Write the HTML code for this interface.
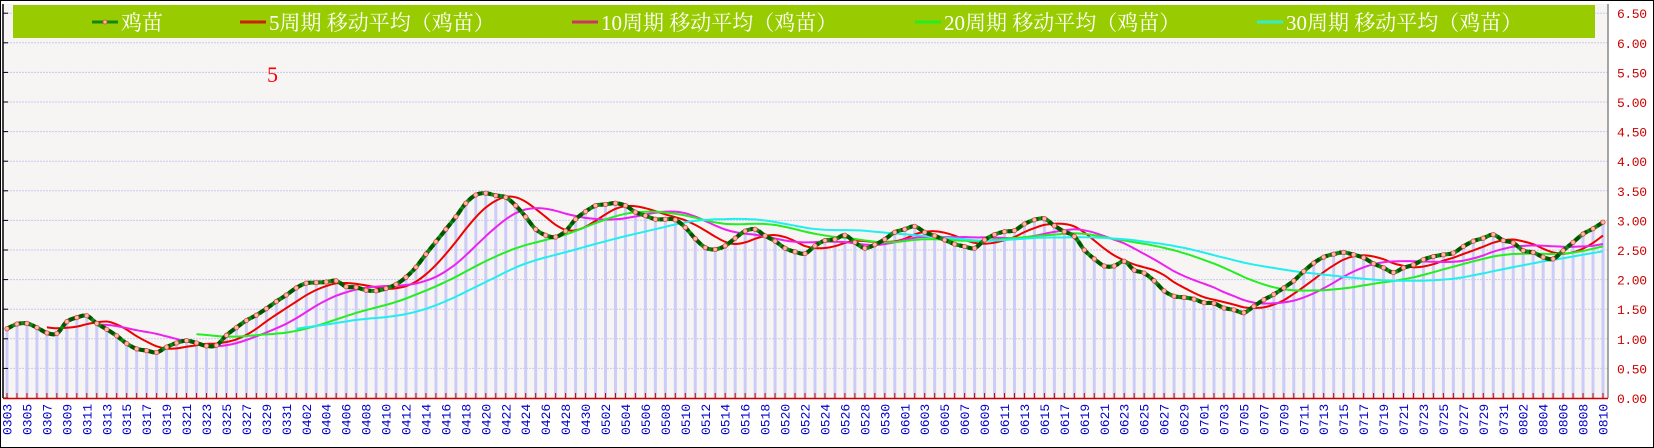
<!DOCTYPE html>
<html><head><meta charset="utf-8">
<style>
html,body{margin:0;padding:0;background:#fff;}
#wrap{position:relative;width:1654px;height:448px;overflow:hidden;}
.serif{font-family:"Liberation Serif","Noto Serif CJK SC",serif;}
</style></head>
<body>
<div id="wrap">
<svg id="chart" width="1654" height="448" viewBox="0 0 1654 448" xmlns="http://www.w3.org/2000/svg">
  <rect x="0.5" y="0.5" width="1653" height="447" fill="#ffffff" stroke="#000"/>
  <rect x="4" y="4" width="1604" height="394" fill="#f6f5f3"/>
  <g id="grid"></g>
  <g id="bars"></g>
  <g id="lines"></g>
  <g id="axes"></g>
  <g id="legend">
    <rect x="13" y="5" width="1582" height="33" fill="#99cc00"/>
  </g>
  <text class="serif" x="267" y="82" fill="#ff0000" font-size="22">5</text>
</svg>
</div>
<script>
const categories = [];
(function(){const m=[[3,3,31],[4,1,30],[5,1,31],[6,1,30],[7,1,31],[8,1,10]];for(const [mo,a,b] of m){for(let d=a;d<=b;d++){categories.push(String(mo).padStart(2,'0')+String(d).padStart(2,'0'));}}})();
const priceValues = [1.17,1.25,1.26,1.19,1.10,1.09,1.29,1.36,1.39,1.26,1.16,1.05,0.92,0.83,0.80,0.77,0.86,0.93,0.97,0.93,0.88,0.89,1.06,1.19,1.31,1.40,1.51,1.63,1.74,1.86,1.94,1.95,1.96,1.98,1.88,1.87,1.82,1.81,1.85,
1.92,2.04,2.21,2.43,2.64,2.85,3.06,3.29,3.43,3.46,3.42,3.39,3.25,3.06,2.85,2.75,2.72,2.82,3.02,3.15,3.25,3.27,3.29,3.25,3.14,3.08,3.02,3.02,3.01,2.88,2.69,2.54,2.51,2.57,2.70,2.82,2.85,2.74,2.65,2.53,2.47,
2.44,2.57,2.66,2.68,2.75,2.63,2.53,2.59,2.68,2.80,2.85,2.90,2.80,2.74,2.67,2.60,2.56,2.53,2.67,2.76,2.81,2.83,2.94,3.01,3.03,2.91,2.81,2.73,2.50,2.35,2.23,2.23,2.31,2.16,2.11,1.98,1.81,1.72,1.70,1.67,
1.61,1.60,1.52,1.49,1.44,1.55,1.66,1.75,1.86,1.98,2.14,2.28,2.38,2.43,2.46,2.42,2.37,2.27,2.20,2.12,2.20,2.25,2.34,2.39,2.42,2.45,2.56,2.65,2.70,2.76,2.66,2.62,2.49,2.46,2.38,2.35,2.49,2.63,2.77,2.86,2.97];
const maPeriods = [5,10,20,30];
const maColors = ['#ee0000','#ee22ee','#22ee22','#22eeee'];
const yTicks = [0,0.5,1,1.5,2,2.5,3,3.5,4,4.5,5,5.5,6,6.5];
const legendLabels = ['鸡苗','5周期 移动平均（鸡苗）','10周期 移动平均（鸡苗）','20周期 移动平均（鸡苗）','30周期 移动平均（鸡苗）'];

const NS='http://www.w3.org/2000/svg';
const X0=7, DX=9.975, Y0=398, YS=59.2;
const MONO='font-family:"Liberation Mono",monospace;';
function xs(i){return X0+i*DX;}
function ys(v){return Y0-v*YS;}
function mk(tag,attrs,parent){const e=document.createElementNS(NS,tag);for(const k in attrs)e.setAttribute(k,attrs[k]);parent.appendChild(e);return e;}
function smooth(pts){if(pts.length<2)return '';let d='M'+pts[0][0].toFixed(1)+','+pts[0][1].toFixed(1);
 for(let i=0;i<pts.length-1;i++){const p0=pts[Math.max(0,i-1)],p1=pts[i],p2=pts[i+1],p3=pts[Math.min(pts.length-1,i+2)];
 const c1=[p1[0]+(p2[0]-p0[0])/6,p1[1]+(p2[1]-p0[1])/6],c2=[p2[0]-(p3[0]-p1[0])/6,p2[1]-(p3[1]-p1[1])/6];
 d+=' C'+c1[0].toFixed(1)+','+c1[1].toFixed(1)+' '+c2[0].toFixed(1)+','+c2[1].toFixed(1)+' '+p2[0].toFixed(1)+','+p2[1].toFixed(1);}return d;}

const grid=document.getElementById('grid'), bars=document.getElementById('bars'), lines=document.getElementById('lines'), axes=document.getElementById('axes'), legend=document.getElementById('legend');

yTicks.forEach(t=>{
  if(t>0){const g=mk('line',{x1:4,x2:1608,y1:ys(t),y2:ys(t),stroke:'#c8c8f0','stroke-width':1,'stroke-dasharray':'2,1'},grid);
  
  }
  const lb=mk('text',{x:1617,y:ys(t)+5,fill:'#cc0000',style:MONO+'font-size:13px;letter-spacing:-0.4px;'},axes);
  lb.textContent=t.toFixed(2);
  
  
  const tk=mk('line',{x1:3,x2:8,y1:ys(t),y2:ys(t),stroke:'#000'},axes);
  
  
});

priceValues.forEach((v,i)=>{
  const b=mk('rect',{x:xs(i)-1.5,y:ys(v),width:3,height:Y0-ys(v),fill:'#ccccf8'},bars);
  
  
});

maPeriods.forEach((p,k)=>{
  const pts=[];
  for(let i=p-1;i<priceValues.length;i++){let s=0;for(let j=i-p+1;j<=i;j++)s+=priceValues[j];pts.push([xs(i),ys(s/p)]);}
  const l=mk('path',{d:smooth(pts),fill:'none',stroke:maColors[k],'stroke-width':2},lines);
  
  
});

const mainPts=priceValues.map((v,i)=>[xs(i),ys(v)]);
const ml=mk('path',{d:smooth(mainPts),fill:'none',stroke:'#118811','stroke-width':4},lines);


const md=mk('path',{d:smooth(mainPts),fill:'none',stroke:'#005500','stroke-width':4,'stroke-dasharray':'6,3'},lines);


priceValues.forEach((v,i)=>{
  const c=mk('circle',{cx:xs(i),cy:ys(v),r:2.2,fill:'#ffbbaa',stroke:'#dd4444','stroke-width':0.8},lines);
  
  
});

mk('line',{x1:3,x2:3,y1:4,y2:398,stroke:'#000','stroke-width':1.5},axes);
mk('line',{x1:1608,x2:1608,y1:4,y2:398,stroke:'#888','stroke-width':1.5},axes);
mk('line',{x1:3,x2:1608,y1:398.5,y2:398.5,stroke:'#cc0000','stroke-width':1.5},axes);
categories.forEach((c,i)=>{
  const tk=mk('line',{x1:xs(i),x2:xs(i),y1:393,y2:398,stroke:'#cc0000'},axes);
  
  
  if(i%2===0){const t=mk('text',{x:0,y:0,fill:'#0000cc',style:MONO+'font-size:13px;',transform:'translate('+(xs(i)+4.5)+',435) rotate(-90)'},axes);
  t.textContent=c;
  
  }
});

const legX=[92,240,572,915,1257];
const legC=['#118811','#cc2200','#cc3366','#22ee22','#33eecc'];
legendLabels.forEach((s,k)=>{
  const g=mk('g',{},legend);
  
  
  mk('line',{x1:legX[k],x2:legX[k]+26,y1:22,y2:22,stroke:legC[k],'stroke-width':3},g);
  if(k===0)mk('circle',{cx:legX[k]+13,cy:22,r:2,fill:'#ffbbaa',stroke:'#dd4444','stroke-width':0.8},g);
  const t=mk('text',{x:legX[k]+29,y:30,fill:'#ffffff','class':'serif','font-size':21},g);
  t.textContent=s;
});
</script>
</body></html>
